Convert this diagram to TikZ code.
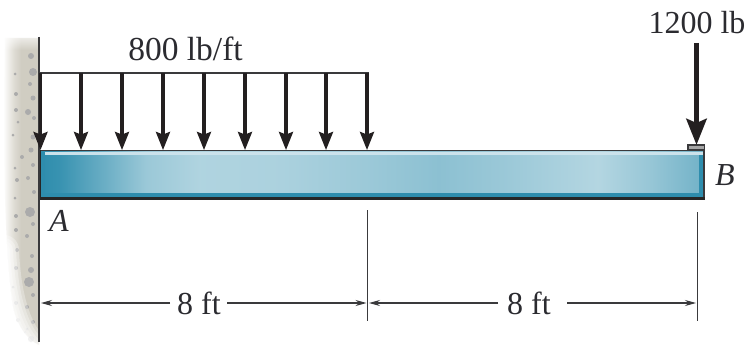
\documentclass[tikz,border=0pt]{standalone}
\usepackage{fontspec}
\setmainfont{Liberation Serif}
\usetikzlibrary{arrows.meta,fadings}
\definecolor{wallc}{HTML}{D0CDC2}
\definecolor{speck}{HTML}{ABABAB}
\definecolor{linec}{HTML}{3A3A3C}
\definecolor{arrowc}{HTML}{231F20}
\definecolor{teal}{HTML}{2E8DAD}
\definecolor{labelc}{HTML}{2B2B30}
\pgfdeclarehorizontalshading{beamshade}{100bp}{
 color(0bp)=(teal!100!black);
 color(25bp)=(teal!100!black);
 color(26.5bp)=(teal!95!white);
 color(30bp)=(teal!70!white);
 color(33bp)=(teal!48!white);
 color(37bp)=(teal!38!white);
 color(43bp)=(teal!40!white);
 color(50bp)=(teal!48!white);
 color(55bp)=(teal!55!white);
 color(60bp)=(teal!48!white);
 color(67bp)=(teal!36!white);
 color(71bp)=(teal!50!white);
 color(75bp)=(teal!68!white);
 color(100bp)=(teal!68!white)}
\pgfdeclarehorizontalshading{wallshade}{100bp}{
 color(0bp)=(white);
 color(25bp)=(white);
 color(40bp)=(wallc!70!white);
 color(50bp)=(wallc);
 color(75bp)=(wallc);
 color(100bp)=(wallc)}
\tikzset{
 x=1pt,y=-1pt,
 lab/.style={font=\fontsize{32}{34}\selectfont,text=labelc,inner sep=0pt},
 ital/.style={font=\fontsize{32}{34}\selectfont\itshape,text=labelc,inner sep=0pt},
 thin line/.style={draw=linec,line width=1.5pt},
 load/.style={draw=arrowc,line width=3.2pt,-{Triangle[length=18pt,width=14pt,inset=2.5pt]}},
 bigload/.style={draw=arrowc,line width=5.5pt,-{Triangle[length=26pt,width=20pt,inset=4pt]}},
 dim/.style={draw=linec,line width=1.1pt,-{Stealth[length=11pt,width=6pt]}},
 tick/.style={draw=linec,line width=1pt},
 softedge/.style={draw=white,opacity=.3,line cap=round},
}
\begin{document}
\begin{tikzpicture}
\useasboundingbox (0,0) rectangle (747,345);
\fill[white] (0,0) rectangle (747,345);
% wall
\shade[shading=wallshade] (5,38) .. controls (3,120) and (3,230) .. (12,300) .. controls (15,325) and (28,340) .. (39,345) -- (39,38) -- cycle;
\foreach \a/\b/\r in {31/56/3,33/72/4,30/84/2,15/74/1.5,16/94/2,33/98/2.5,16/110/2,28/112/3,34/118/2,18/122/1.5,33/137/2.5,13/135/1.5,31/150/2.5,22/157/2,15/168/1.5,33/165/2,17/180/2,28/178/2,34/192/2,15/198/1.5,30/212/5,16/216/2,33/224/2,16/230/2,27/236/2,17/250/2,32/256/2,16/268/2,31/270/3,29/282/5,13/287/1.5,33/295/2,16/303/2,27/307/2,18/320/2,33/322/2,27/329/1.5,31/339/3,25/332/1}
  \fill[speck] (\a,\b) circle (\r);
% soft lower and upper edges of the wall
\foreach \w in {30,24,18,12,6}
  \draw[softedge,line width=\w pt] (4,250) .. controls (6,300) and (18,335) .. (36,349);
\fill[white,path fading=south] (0,30) rectangle (38,50);
% beam
\shade[shading=beamshade] (40,151) rectangle (704,198);
\fill[teal!25!white] (41,152) rectangle (703,155);
\fill[teal] (41,193) rectangle (703,198);
\fill[teal] (699,155) rectangle (703,198);
\fill[teal] (41,152) rectangle (45,198);
\draw[line width=1.5pt,draw=linec] (39.5,150.5) rectangle (704,198);
\draw[line width=3pt,draw=black!85] (39,198) -- (705,198);
\draw[line width=1.6pt,draw=black!85] (40.2,150) -- (40.2,198);
% plate
\draw[line width=1.2pt,draw=linec,fill=black!35] (688,150) rectangle (704.5,145);
% wall line
\coordinate (w1) at (39,37);
\coordinate (w2) at (39,342);
\draw[thin line] (w1) -- (w2);
% load
\coordinate (lt0) at (39,73);
\coordinate (lt1) at (369,73);
\draw[thin line] (lt0) -- (lt1);
\foreach \i/\xx in {1/40.5,2/81,3/122,4/163,5/204,6/245,7/286,8/326,9/367}{
  \coordinate (t\i) at (\xx,73);
  \coordinate (b\i) at (\xx,150);
  \draw[load] (t\i) -- (b\i);
}
\coordinate (pt) at (696.5,43);
\coordinate (pb) at (696.5,145);
\draw[bigload] (pt) -- (pb);
% texts
\node[lab,font=\fontsize{33.5}{35}\selectfont] (q) at (185.5,49) {800 lb/ft};
\node[lab] (p) at (697,23) {1200 lb};
\node[ital] (A) at (59,221) {A};
\node[ital] (B) at (725,175) {B};
\node[lab] (d1) at (199,303) {8 ft};
\node[lab] (d2) at (529,303) {8 ft};
% dims
\coordinate (k1a) at (367.5,210);
\coordinate (k1b) at (367.5,321);
\coordinate (k2a) at (697,212);
\coordinate (k2b) at (697,321);
\draw[tick] (k1a) -- (k1b);
\draw[tick] (k2a) -- (k2b);
\coordinate (e0) at (41,303);
\coordinate (e1) at (366.5,303);
\coordinate (e2) at (369,303);
\coordinate (e3) at (696,303);
\draw[dim] (170,303) -- (e0);
\draw[dim] (227,303) -- (e1);
\draw[dim] (498,303) -- (e2);
\draw[dim] (567,303) -- (e3);
\end{tikzpicture}
\end{document}
